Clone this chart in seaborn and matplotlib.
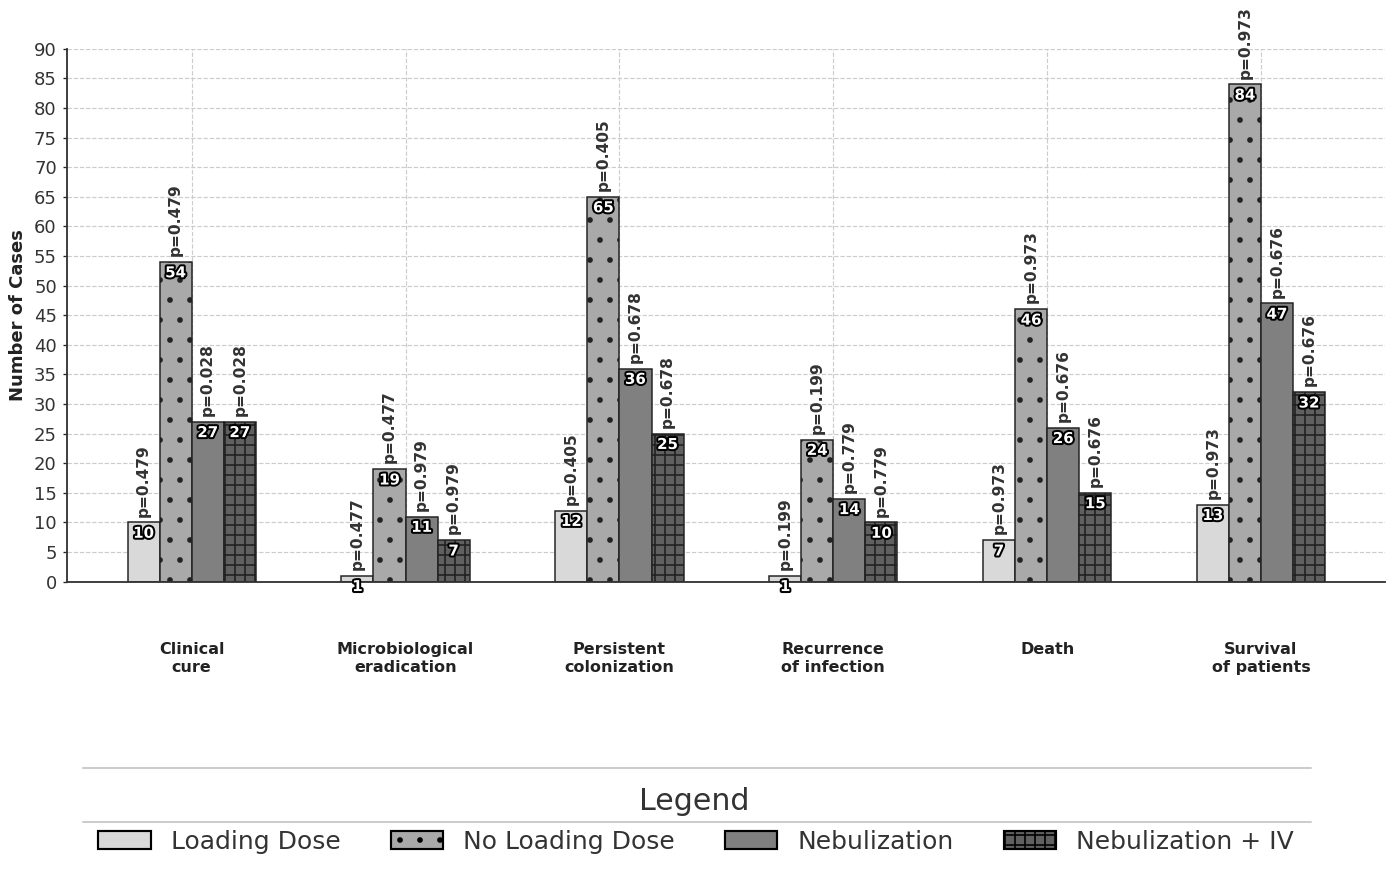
import matplotlib
matplotlib.use("Agg")
import matplotlib.pyplot as plt
import matplotlib.patheffects as pe
from matplotlib.lines import Line2D
from matplotlib.patches import Patch
import seaborn as sns
import pandas as pd

categories = ["Clinical\ncure", "Microbiological\neradication", "Persistent\ncolonization",
              "Recurrence\nof infection", "Death", "Survival\nof patients"]
groups = ["Loading Dose", "No Loading Dose", "Nebulization", "Nebulization + IV"]
loading = [10, 1, 12, 1, 7, 13]
no_loading = [54, 19, 65, 24, 46, 84]
nebulization = [27, 11, 36, 14, 26, 47]
neb_iv = [27, 7, 25, 10, 15, 32]
p_loading = [0.479, 0.477, 0.405, 0.199, 0.973, 0.973]
p_nebul = [0.028, 0.979, 0.678, 0.779, 0.676, 0.676]

colors = ["#d9d9d9", "#a9a9a9", "#808080", "#606060"]
hatches = ["", ".", "", "++"]

series = [loading, no_loading, nebulization, neb_iv]
pvals = [p_loading, p_loading, p_nebul, p_nebul]
rows = []
for g, vals, ps in zip(groups, series, pvals):
    for c, v, p in zip(categories, vals, ps):
        rows.append({"Category": c, "Group": g, "Cases": v, "p": p})
df = pd.DataFrame(rows)

sns.set_style("white")
plt.rcParams["font.family"] = ["DejaVu Sans"]
plt.rcParams["hatch.linewidth"] = 1.0

DPI = 120
fig = plt.figure(figsize=(1392 / DPI, 872 / DPI), dpi=DPI)
ax = fig.add_axes([0.048, 0.333, 0.947, 0.611])

sns.barplot(data=df, x="Category", y="Cases", hue="Group", hue_order=groups,
            order=categories, palette=colors, width=0.6, edgecolor="#222222",
            linewidth=0.9, ax=ax, legend=False, saturation=1)

for gi, cont in enumerate(ax.containers):
    gname = groups[gi]
    sub = df[df["Group"] == gname].set_index("Category").loc[categories]
    for bar, (cat, row) in zip(cont, sub.iterrows()):
        bar.set_hatch(hatches[gi])
        x = bar.get_x() + bar.get_width() / 2
        h = bar.get_height()
        ax.annotate(f"{int(row['Cases'])}", (x, h), xytext=(0, -6.5), textcoords="offset points",
                    ha="center", va="center", color="white", fontsize=9, fontweight="bold",
                    path_effects=[pe.withStroke(linewidth=2.4, foreground="black")], zorder=5)
        ax.annotate(f"p={row['p']:.3f}", (x, h), xytext=(0, 3.5), textcoords="offset points",
                    ha="center", va="bottom", rotation=90, color="#333333", fontsize=9.2,
                    fontweight="bold", zorder=5)

ax.set_ylim(0, 90)
ax.set_xlim(-0.584, 5.58)
ax.set_yticks(range(0, 91, 5))
ax.set_xlabel("")
ax.set_ylabel("Number of Cases", fontsize=10.8, fontweight="bold", color="#222222")
ax.tick_params(axis="y", labelsize=10.8, labelcolor="#333333", length=2.5, width=0.8, left=True)
ax.tick_params(axis="x", pad=36, length=0)
for lab in ax.get_xticklabels():
    lab.set_fontweight("bold")
    lab.set_fontsize(9.6)
    lab.set_color("#222222")
    lab.set_linespacing(1.3)
ax.grid(True, linestyle="--", color="#cccccc", linewidth=0.7)
ax.set_axisbelow(True)
for s in ["top", "right"]:
    ax.spines[s].set_visible(False)
for s in ["left", "bottom"]:
    ax.spines[s].set_color("#333333")
    ax.spines[s].set_linewidth(1.1)

handles = [Patch(facecolor=colors[i], edgecolor="black", hatch=hatches[i], linewidth=1.3)
           for i in range(4)]
leg = fig.legend(handles, groups, loc="center", bbox_to_anchor=(0.5, 1 - 842 / 872),
                 ncol=4, frameon=False, fontsize=15, handlelength=2.1, handleheight=0.72,
                 handletextpad=0.8, columnspacing=2.0)
for t in leg.get_texts():
    t.set_color("#333333")
fig.text(0.4985, 1 - 802 / 872, "Legend", ha="center", va="center", fontsize=18, color="#333333")
fig.add_artist(Line2D([83 / 1392, 1311 / 1392], [1 - 768 / 872, 1 - 768 / 872],
                      color="#cccccc", linewidth=1.2))
fig.add_artist(Line2D([83 / 1392, 1311 / 1392], [1 - 822 / 872, 1 - 822 / 872],
                      color="#cccccc", linewidth=1.2))

fig.savefig("out.png", dpi=DPI)
